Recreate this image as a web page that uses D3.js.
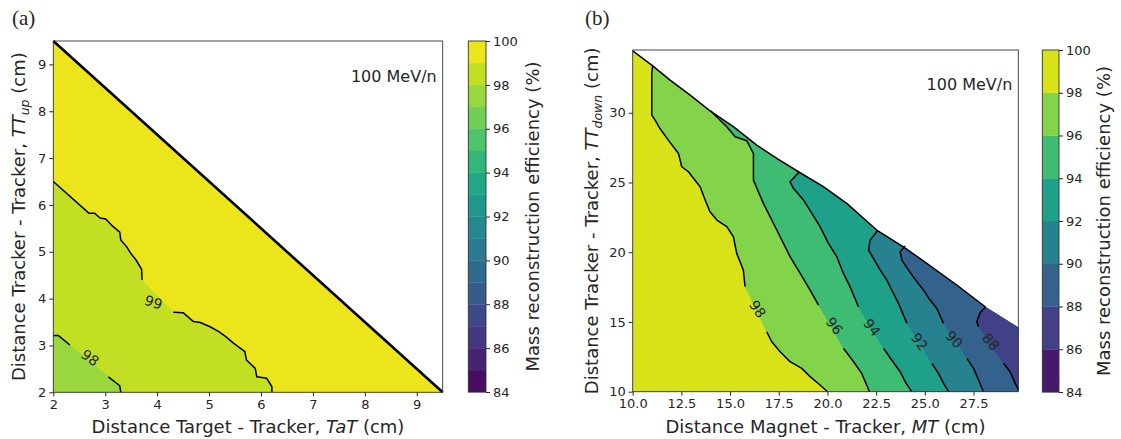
<!DOCTYPE html>
<html>
<head>
<meta charset="utf-8">
<script src="https://cdn.jsdelivr.net/npm/d3@7"></script>
<style>
  body { margin: 0; background: #fff; }
  svg { font-family: "DejaVu Sans", sans-serif; }
  .tick text { fill: #262626; }
  .tick line { stroke: #262626; }
</style>
</head>
<body>
<svg id="chart" width="1121" height="439"></svg>
<script>
// ---- data ---------------------------------------------------------------

// colour bar levels (a: step 1, b: step 2) and tick labels
var levelsA = [84, 85, 86, 87, 88, 89, 90, 91, 92, 93, 94, 95, 96, 97, 98, 99, 100];
var levelsB = [84, 86, 88, 90, 92, 94, 96, 98, 100];
var cbarTicks = [84, 86, 88, 90, 92, 94, 96, 98, 100];

var xTicksA = [2, 3, 4, 5, 6, 7, 8, 9];
var yTicksA = [2, 3, 4, 5, 6, 7, 8, 9];
var xTicksB = [10, 12.5, 15, 17.5, 20, 22.5, 25, 27.5];
var yTicksB = [10, 15, 20, 25, 30];

// panel (a): valid region is the triangle TaT + TTup <= 11.5
var domainA = [[2, 2], [2, 9.5], [9.5, 2]];

// iso-lines, split where the inline label sits
var contourA99 = [
  [[2, 6.5], [2.69, 5.82], [2.80, 5.82], [2.90, 5.72], [3.01, 5.70], [3.12, 5.57],
   [3.28, 5.42], [3.30, 5.25], [3.41, 5.11], [3.49, 4.97], [3.59, 4.83], [3.70, 4.63],
   [3.71, 4.40]],
  [[4.31, 3.71], [4.50, 3.70], [4.70, 3.51], [4.83, 3.49], [5.02, 3.40], [5.18, 3.30],
   [5.31, 3.20], [5.47, 3.05], [5.69, 2.87], [5.72, 2.69], [5.89, 2.51], [5.92, 2.33],
   [6.11, 2.30], [6.21, 2.12], [6.21, 2.0]]
];
var contourA98 = [
  [[2, 3.21], [2.10, 3.21], [2.32, 3.01]],
  [[3.06, 2.33], [3.28, 2.14], [3.30, 2.0]]
];
// inline labels: level, position, angle (deg)
var labelsA = [
  [99, 3.93, 3.92, 18],
  [98, 2.71, 2.74, 36]
];

// panel (b): upper edge of the valid region
var edgeB = [
  [10, 34.44], [10.98, 33.42], [11.92, 32.34], [12.95, 31.27], [13.97, 30.14],
  [15.17, 29.00], [16.37, 27.68], [17.40, 26.73], [18.51, 25.77], [19.79, 24.70],
  [20.99, 23.50], [22.53, 21.59], [23.90, 20.39], [25.10, 19.20], [26.64, 17.65],
  [28.10, 16.09], [29.8, 14.6]
];
var contourB98 = [
  [[11.03, 33.4], [10.98, 32.82], [10.98, 29.83], [11.15, 29.47], [11.40, 28.87],
   [11.83, 28.04], [12.35, 27.08], [12.52, 26.13], [12.86, 25.77], [13.46, 24.70],
   [13.72, 23.74], [13.97, 22.90], [14.32, 22.31], [14.83, 21.83], [15.17, 21.11],
   [15.34, 19.92], [15.68, 18.72], [15.77, 17.53]],
  [[16.88, 14.30], [17.14, 13.58], [17.57, 12.87], [18.08, 12.15], [18.68, 11.67],
   [19.11, 11.08], [19.62, 10.48], [20.0, 10.0]]
];
var contourB96 = [
  [[14.0, 30.14], [14.40, 29.59], [14.83, 29.0], [15.26, 28.28], [15.86, 27.99],
   [16.20, 27.08], [16.20, 25.17], [16.71, 23.50], [17.14, 22.31], [17.57, 21.11],
   [18.08, 19.68], [18.60, 18.48], [19.11, 17.29], [19.54, 16.21]],
  [[20.82, 13.11], [21.34, 12.15], [21.76, 11.31], [22.16, 10.0]]
];
var contourB94 = [
  [[18.56, 25.77], [18.08, 25.05], [18.25, 24.58], [18.77, 23.74], [19.20, 22.78],
   [19.62, 21.83], [20.05, 20.63], [20.48, 19.68], [20.82, 18.48], [21.16, 17.53],
   [21.59, 16.09]],
  [[22.88, 13.11], [23.30, 12.27], [23.73, 11.43], [24.04, 10.60], [24.33, 10.0]]
];
var contourB92 = [
  [[22.57, 21.54], [22.19, 20.87], [22.11, 20.16], [22.36, 19.56], [22.71, 18.72],
   [23.05, 18.0], [23.30, 17.29], [23.65, 16.33], [24.08, 14.90]],
  [[25.36, 12.03], [25.70, 11.31], [25.96, 10.60], [26.22, 10.0]]
];
var contourB90 = [
  [[23.99, 20.44], [23.73, 20.04], [23.82, 19.44], [24.16, 18.72], [24.59, 17.89],
   [24.93, 17.29], [25.27, 16.57], [25.62, 15.97], [25.96, 14.90]],
  [[27.16, 12.39], [27.50, 11.67], [27.76, 10.84], [28.01, 10.0]]
];
var contourB88 = [
  [[28.13, 16.09], [27.84, 15.66], [27.67, 15.02], [27.76, 14.66]],
  [[29.04, 12.03], [29.38, 11.43], [29.64, 10.60], [29.8, 10.12]]
];
var labelsB = [
  [98, 16.42, 15.93, 56],
  [96, 20.36, 14.71, 52],
  [94, 22.28, 14.61, 52],
  [92, 24.73, 13.58, 52],
  [90, 26.51, 13.75, 48],
  [88, 28.39, 13.58, 50]
];

// ---- drawing --------------------------------------------------------------

var svg = d3.select('#chart');
var ink = '#262626';
var vmin = 84, vmax = 100;

function bandColor(lo, hi) {
  return d3.interpolateViridis(((lo + hi) / 2 - vmin) / (vmax - vmin));
}

/**
 * Draw one contour panel.
 */
function drawPanel(p) {
  var x = d3.scaleLinear().domain(p.xDomain).range([p.left, p.right]);
  var y = d3.scaleLinear().domain(p.yDomain).range([p.bottom, p.top]);
  var line = d3.line().x(function (d) { return x(d[0]); }).y(function (d) { return y(d[1]); });
  var g = svg.append('g');

  g.append('clipPath').attr('id', p.id + '-clip')
    .append('path').attr('d', line(p.domain) + 'Z');

  var fills = g.append('g').attr('clip-path', 'url(#' + p.id + '-clip)');
  fills.append('path')
    .attr('d', line(p.domain) + 'Z')
    .attr('fill', bandColor(p.top0, p.top0 + p.step))
    .attr('stroke', bandColor(p.top0, p.top0 + p.step))
    .attr('stroke-width', 0.5);

  // every contour closes its low side with the corner points given
  p.contours.forEach(function (c) {
    var pts = c.segs[0].concat(c.segs[1]);
    var col = bandColor(c.level - p.step, c.level);
    fills.append('path')
      .attr('d', line(pts.concat(p.close(pts))) + 'Z')
      .attr('fill', col)
      .attr('stroke', col)
      .attr('stroke-width', 0.5);
  });

  p.contours.forEach(function (c) {
    c.segs.forEach(function (s) {
      g.append('path')
        .attr('d', line(s))
        .attr('fill', 'none')
        .attr('stroke', '#000')
        .attr('stroke-width', 1.5)
        .attr('stroke-linejoin', 'round');
    });
  });

  g.append('path')
    .attr('d', line(p.edge))
    .attr('fill', 'none')
    .attr('stroke', '#000')
    .attr('stroke-width', p.edgeWidth)
    .attr('stroke-linejoin', 'round');

  p.labels.forEach(function (l) {
    g.append('text')
      .attr('transform', 'translate(' + x(l[1]) + ',' + y(l[2]) + ') rotate(' + l[3] + ')')
      .attr('text-anchor', 'middle')
      .attr('dominant-baseline', 'central')
      .attr('font-size', 14)
      .attr('fill', ink)
      .text(l[0]);
  });

  // frame
  g.append('rect')
    .attr('x', p.left).attr('y', p.top)
    .attr('width', p.right - p.left).attr('height', p.bottom - p.top)
    .attr('fill', 'none').attr('stroke', '#333').attr('stroke-width', 0.9);

  var ax = g.append('g').attr('transform', 'translate(0,' + p.bottom + ')')
    .call(d3.axisBottom(x).tickValues(p.xTicks).tickFormat(p.xFormat).tickSize(4).tickPadding(3));
  var ay = g.append('g').attr('transform', 'translate(' + p.left + ',0)')
    .call(d3.axisLeft(y).tickValues(p.yTicks).tickFormat(d3.format('d')).tickSize(4).tickPadding(3));
  [ax, ay].forEach(function (a) {
    a.select('.domain').remove();
    a.selectAll('text').attr('font-size', 13).attr('font-family', '"DejaVu Sans", sans-serif');
  });

  // annotation
  g.append('text')
    .attr('x', p.right - 6).attr('y', p.noteY)
    .attr('text-anchor', 'end').attr('font-size', 16).attr('fill', ink)
    .text('100 MeV/n');

  // panel letter
  g.append('text')
    .attr('x', p.letterX).attr('y', 25)
    .attr('font-family', '"Liberation Serif", "DejaVu Serif", serif')
    .attr('font-size', 21).attr('fill', ink)
    .text(p.letter);

  // x label
  var xl = g.append('text')
    .attr('x', (p.left + p.right) / 2).attr('y', 433)
    .attr('text-anchor', 'middle').attr('font-size', 18).attr('fill', ink);
  xl.append('tspan').text(p.xLabel[0]);
  xl.append('tspan').attr('font-style', 'italic').text(p.xLabel[1]);
  xl.append('tspan').text(p.xLabel[2]);

  // y label
  var yl = g.append('text')
    .attr('transform', 'translate(' + p.yLabelX + ',' + (p.top + p.bottom) / 2 + ') rotate(-90)')
    .attr('text-anchor', 'middle').attr('font-size', 18).attr('fill', ink);
  yl.append('tspan').text('Distance Tracker - Tracker, ');
  yl.append('tspan').attr('font-style', 'italic').text('TT');
  yl.append('tspan').attr('font-style', 'italic').attr('font-size', 12.5).attr('dy', 4).text(p.sub);
  yl.append('tspan').attr('dy', -4).text(' (cm)');

  drawColorbar(p.cbar, p.levels);
}

function drawColorbar(c, levels) {
  var y = d3.scaleLinear().domain([vmin, vmax]).range([c.bottom, c.top]);
  var g = svg.append('g');
  var bands = d3.pairs(levels);
  g.selectAll('rect.band').data(bands).enter().append('rect')
    .attr('class', 'band')
    .attr('x', c.left).attr('width', c.right - c.left)
    .attr('y', function (d) { return y(d[1]); })
    .attr('height', function (d) { return y(d[0]) - y(d[1]) + 0.3; })
    .attr('fill', function (d) { return bandColor(d[0], d[1]); });
  g.append('rect')
    .attr('x', c.left).attr('y', c.top)
    .attr('width', c.right - c.left).attr('height', c.bottom - c.top)
    .attr('fill', 'none').attr('stroke', '#333').attr('stroke-width', 0.9);
  var a = g.append('g').attr('transform', 'translate(' + c.right + ',0)')
    .call(d3.axisRight(y).tickValues(cbarTicks).tickFormat(d3.format('d')).tickSize(4).tickPadding(3));
  a.select('.domain').remove();
  a.selectAll('text').attr('font-size', 13).attr('font-family', '"DejaVu Sans", sans-serif');
  g.append('text')
    .attr('transform', 'translate(' + c.labelX + ',' + (c.top + c.bottom) / 2 + ') rotate(-90)')
    .attr('text-anchor', 'middle').attr('font-size', 18).attr('fill', ink)
    .text('Mass reconstruction efficiency (%)');
}

drawPanel({
  id: 'a', letter: '(a)', letterX: 12,
  left: 53.3, right: 442.7, top: 41, bottom: 392.3,
  xDomain: [2, 9.5], yDomain: [2, 9.5],
  xTicks: xTicksA, yTicks: yTicksA, xFormat: d3.format('d'),
  domain: domainA,
  edge: [domainA[1], domainA[2]], edgeWidth: 2.6,
  top0: 99, step: 1,
  contours: [{ level: 99, segs: contourA99 }, { level: 98, segs: contourA98 }],
  close: function () { return [[2, 2]]; },
  labels: labelsA,
  noteY: 82,
  xLabel: ['Distance Target - Tracker, ', 'TaT', ' (cm)'],
  sub: 'up', yLabelX: 25,
  levels: levelsA,
  cbar: { left: 468.3, right: 486, top: 41, bottom: 392, labelX: 539 }
});

drawPanel({
  id: 'b', letter: '(b)', letterX: 585,
  left: 632.7, right: 1018.3, top: 50, bottom: 391.7,
  xDomain: [10, 29.8], yDomain: [10, 34.5],
  xTicks: xTicksB, yTicks: yTicksB, xFormat: d3.format('.1f'),
  domain: edgeB.concat([[29.8, 10], [10, 10]]),
  edge: edgeB.filter(function (d) { return d[0] <= 28.2; }), edgeWidth: 1.5,
  top0: 98, step: 2,
  contours: [
    { level: 98, segs: contourB98 }, { level: 96, segs: contourB96 },
    { level: 94, segs: contourB94 }, { level: 92, segs: contourB92 },
    { level: 90, segs: contourB90 }, { level: 88, segs: contourB88 }
  ],
  close: function (pts) { return [[29.8, 10], [29.8, 40], [pts[0][0], 40]]; },
  labels: labelsB,
  noteY: 90,
  xLabel: ['Distance Magnet - Tracker, ', 'MT', ' (cm)'],
  sub: 'down', yLabelX: 598,
  levels: levelsB,
  cbar: { left: 1042.3, right: 1059, top: 50, bottom: 392, labelX: 1110 }
});
</script>
</body>
</html>
